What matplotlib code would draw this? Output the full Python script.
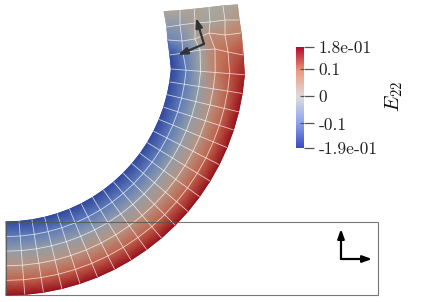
import numpy as np
import matplotlib
matplotlib.use("Agg")
import matplotlib.pyplot as plt
from matplotlib.colors import LinearSegmentedColormap, Normalize

# --- data -------------------------------------------------------------
vmin, vmax = -0.19, 0.18
tick_values = [0.18, 0.1, 0.0, -0.1, -0.19]
tick_labels = ["1.8e-01", "0.1", "0", "-0.1", "-1.9e-01"]
field_label = r"$E_{22}$"

# curved beam mesh: centre of curvature, radii, angles (image coordinates)
centre_x, centre_y = 6.0, 56.0
radii = [166.0, 180.6, 195.2, 209.8, 224.4, 239.0]
angles_deg = [4.5 * i for i in range(20)]
# E22 through the thickness (inner to outer) along the curved part
through_thickness = [-0.175, -0.105, -0.035, 0.035, 0.105, 0.175]
# E22 for the last arc stations, which change towards the free end
end_arc_values = [
    [-0.170, -0.105, -0.035, 0.045, 0.110, 0.170],
    [-0.180, -0.105, -0.015, 0.075, 0.115, 0.165],
]

# free end (top) nodes, from the arc end up to the free edge
top_x = [
    [170.0, 183.0, 200.0, 215.0, 228.0, 243.0],
    [168.0, 182.0, 195.0, 209.0, 225.0, 241.0],
    [167.0, 180.0, 195.0, 210.0, 225.0, 239.0],
    [164.3, 180.0, 194.3, 209.0, 223.0, 237.3],
]
top_y = [
    [55.0, 53.0, 50.0, 49.0, 52.0, 55.0],
    [40.0, 41.0, 39.0, 33.0, 35.0, 33.0],
    [27.0, 25.0, 23.0, 22.0, 20.0, 20.0],
    [11.7, 10.7, 9.3, 7.7, 6.0, 5.0],
]
top_values = [
    [-0.175, -0.110, -0.020, 0.075, 0.100, 0.130],
    [-0.090, -0.070, -0.015, 0.040, 0.055, 0.075],
    [-0.050, -0.040, 0.012, -0.015, 0.015, 0.035],
    [0.000, 0.000, 0.010, -0.005, 0.000, 0.000],
]

# straight reference rectangle
rect_x = [6, 378, 378, 6, 6]
rect_y = [222, 222, 295, 295, 222]

# triads: origin, up tip, side tip
triad_fixed = [(341, 259), (341, 229), (372, 259)]
triad_moved = [(204, 44), (196, 18), (178, 55)]

# --- build ------------------------------------------------------------
th = np.radians(angles_deg)
r = np.array(radii)
X = centre_x + np.outer(np.sin(th), r)
Y = centre_y + np.outer(np.cos(th), r)
V = np.tile(through_thickness, (len(th), 1))
V[-2:] = end_arc_values

X = np.vstack([X, top_x])
Y = np.vstack([Y, top_y])
V = np.vstack([V, top_values])

mesh_cmap = LinearSegmentedColormap.from_list(
    "mesh", ["#2a3f9a", "#6582bb", "#a9a89f", "#c9785a", "#980f1a"])
bar_cmap = LinearSegmentedColormap.from_list(
    "bar", ["#3b4cc0", "#8ea4ee", "#dddddd", "#ee9b80", "#b40426"])
norm = Normalize(vmin, vmax)

plt.rcParams["mathtext.fontset"] = "cm"
fig = plt.figure(figsize=(4.23, 3.02), dpi=100, facecolor="white")
ax = fig.add_axes([0, 0, 1, 1])
ax.set_xlim(0, 423)
ax.set_ylim(302, 0)
ax.axis("off")

ax.pcolormesh(X, Y, V, cmap=mesh_cmap, norm=norm, shading="gouraud", zorder=1)

# soft outline in the field colour, so the silhouette is smooth and not stepped
for j in (0, X.shape[1] - 1):
    for i in range(X.shape[0] - 1):
        ax.plot(X[i:i + 2, j], Y[i:i + 2, j], lw=0.9, zorder=1.5,
                color=mesh_cmap(norm(V[i:i + 2, j].mean())), solid_capstyle="round")
for j in range(X.shape[1] - 1):
    ax.plot(X[-1, j:j + 2], Y[-1, j:j + 2], lw=0.9, zorder=1.5,
            color=mesh_cmap(norm(V[-1, j:j + 2].mean())), solid_capstyle="round")

# interior mesh lines only: the free boundary of the body has no white line
for i in range(1, X.shape[0] - 1):
    ax.plot(X[i], Y[i], color="white", lw=0.6, alpha=0.7, zorder=2)
for j in range(1, X.shape[1] - 1):
    ax.plot(X[:, j], Y[:, j], color="white", lw=0.6, alpha=0.7, zorder=2)

ax.plot(rect_x, rect_y, color="#555555", lw=0.8, alpha=0.8, zorder=3)


def draw_triad(pts, colour):
    o, up, side = pts
    for tip in (up, side):
        ax.annotate("", xy=tip, xytext=o, zorder=5,
                    arrowprops=dict(arrowstyle="-|>,head_length=0.55,head_width=0.2",
                                    color=colour, lw=1.6, shrinkA=0, shrinkB=0))


draw_triad(triad_fixed, "#000000")
draw_triad(triad_moved, "#333333")

# colour bar
cax = fig.add_axes([296 / 423, 1 - 148 / 302, 8 / 423, 101 / 302])
grad = np.linspace(vmin, vmax, 256).reshape(-1, 1)
cax.imshow(grad, cmap=bar_cmap, norm=norm, aspect="auto", origin="lower",
           extent=[0, 1, vmin, vmax])
cax.set_xticks([])
cax.yaxis.tick_right()
cax.set_yticks(tick_values)
cax.set_yticklabels(tick_labels, family="cmr10", fontsize=12.5, color="#222222")
cax.tick_params(axis="y", length=7, width=0.9, color="#555555", pad=3.5)
for s in cax.spines.values():
    s.set_visible(False)
cax.hlines(tick_values[1:-1], 0.5, 1, color="#555555", lw=0.9)
cax.set_ylim(vmin, vmax)

ax.text(394, 96, field_label, rotation=90, ha="center", va="center",
        fontsize=15, color="#111111")

fig.savefig("out.png", dpi=100)
